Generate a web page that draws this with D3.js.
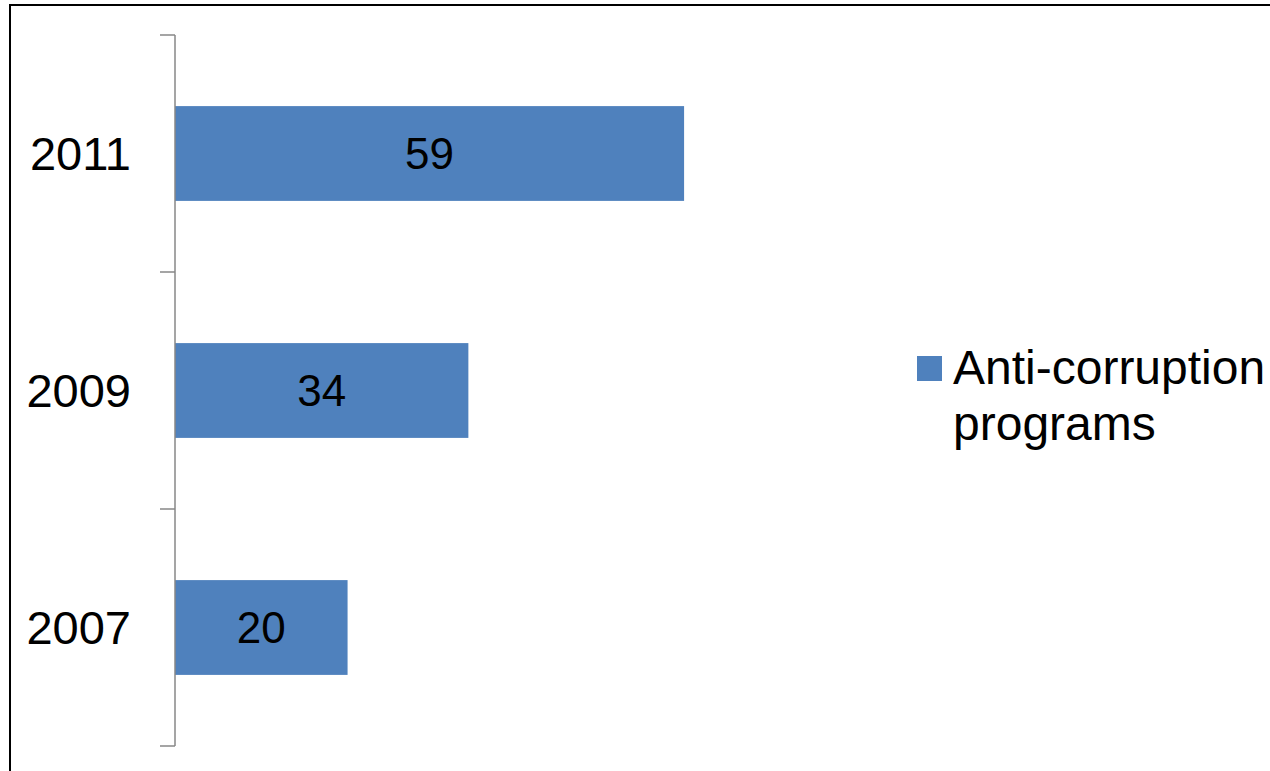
<!DOCTYPE html>
<html><head><meta charset="utf-8">
<script src="https://cdn.jsdelivr.net/npm/d3@7"></script>
<style>body{margin:0;background:#fff}svg{display:block}text{font-family:"Liberation Sans",Arial,sans-serif}</style>
</head><body>
<script>
const categories = ["2011", "2009", "2007"];
const values = [59, 34, 20];
const seriesName = ["Anti-corruption", "programs"];

const W = 1270, H = 771;
const svg = d3.select("body").append("svg").attr("width", W).attr("height", H);

// outer border
svg.append("rect").attr("x", 10).attr("y", 5).attr("width", W + 20).attr("height", H + 20)
  .attr("fill", "none").attr("stroke", "#000").attr("stroke-width", 2);

const x = d3.scaleLinear().domain([0, 70]).range([175, 779]);
const y = d3.scaleBand().domain(categories).range([35, 746]).paddingInner(0.6).paddingOuter(0.3);

const color = "#4F81BD";

svg.selectAll("rect.bar").data(values).join("rect").attr("class", "bar")
  .attr("x", x(0)).attr("y", (d, i) => y(categories[i]))
  .attr("width", d => x(d) - x(0)).attr("height", y.bandwidth())
  .attr("fill", color);

// axis line and ticks
const axisColor = "#878787";
svg.append("line").attr("x1", x(0)).attr("x2", x(0)).attr("y1", y.range()[0]).attr("y2", y.range()[1])
  .attr("stroke", axisColor).attr("stroke-width", 1.5);
const step = y.step();
const bounds = d3.range(categories.length + 1).map(i => y.range()[0] + i * step);
svg.selectAll("line.tick").data(bounds).join("line").attr("class", "tick")
  .attr("x1", x(0) - 15).attr("x2", x(0)).attr("y1", d => d).attr("y2", d => d)
  .attr("stroke", axisColor).attr("stroke-width", 1.5);

// category labels
svg.selectAll("text.cat").data(categories).join("text").attr("class", "cat")
  .attr("x", 131).attr("y", d => y(d) + y.bandwidth() / 2)
  .attr("dy", "0.36em").attr("text-anchor", "end")
  .attr("font-size", 47).attr("fill", "#000").text(d => d);

// value labels
svg.selectAll("text.val").data(values).join("text").attr("class", "val")
  .attr("x", d => (x(0) + x(d)) / 2).attr("y", (d, i) => y(categories[i]) + y.bandwidth() / 2)
  .attr("dy", "0.35em").attr("text-anchor", "middle")
  .attr("font-size", 44).attr("fill", "#000").text(d => d);

// legend
const lg = svg.append("g");
lg.append("rect").attr("x", 917).attr("y", 356).attr("width", 25).attr("height", 25).attr("fill", color);
lg.selectAll("text").data(seriesName).join("text")
  .attr("x", 953).attr("y", (d, i) => 384 + i * 56)
  .attr("font-size", 48).attr("fill", "#000").text(d => d);
</script>
</body></html>
